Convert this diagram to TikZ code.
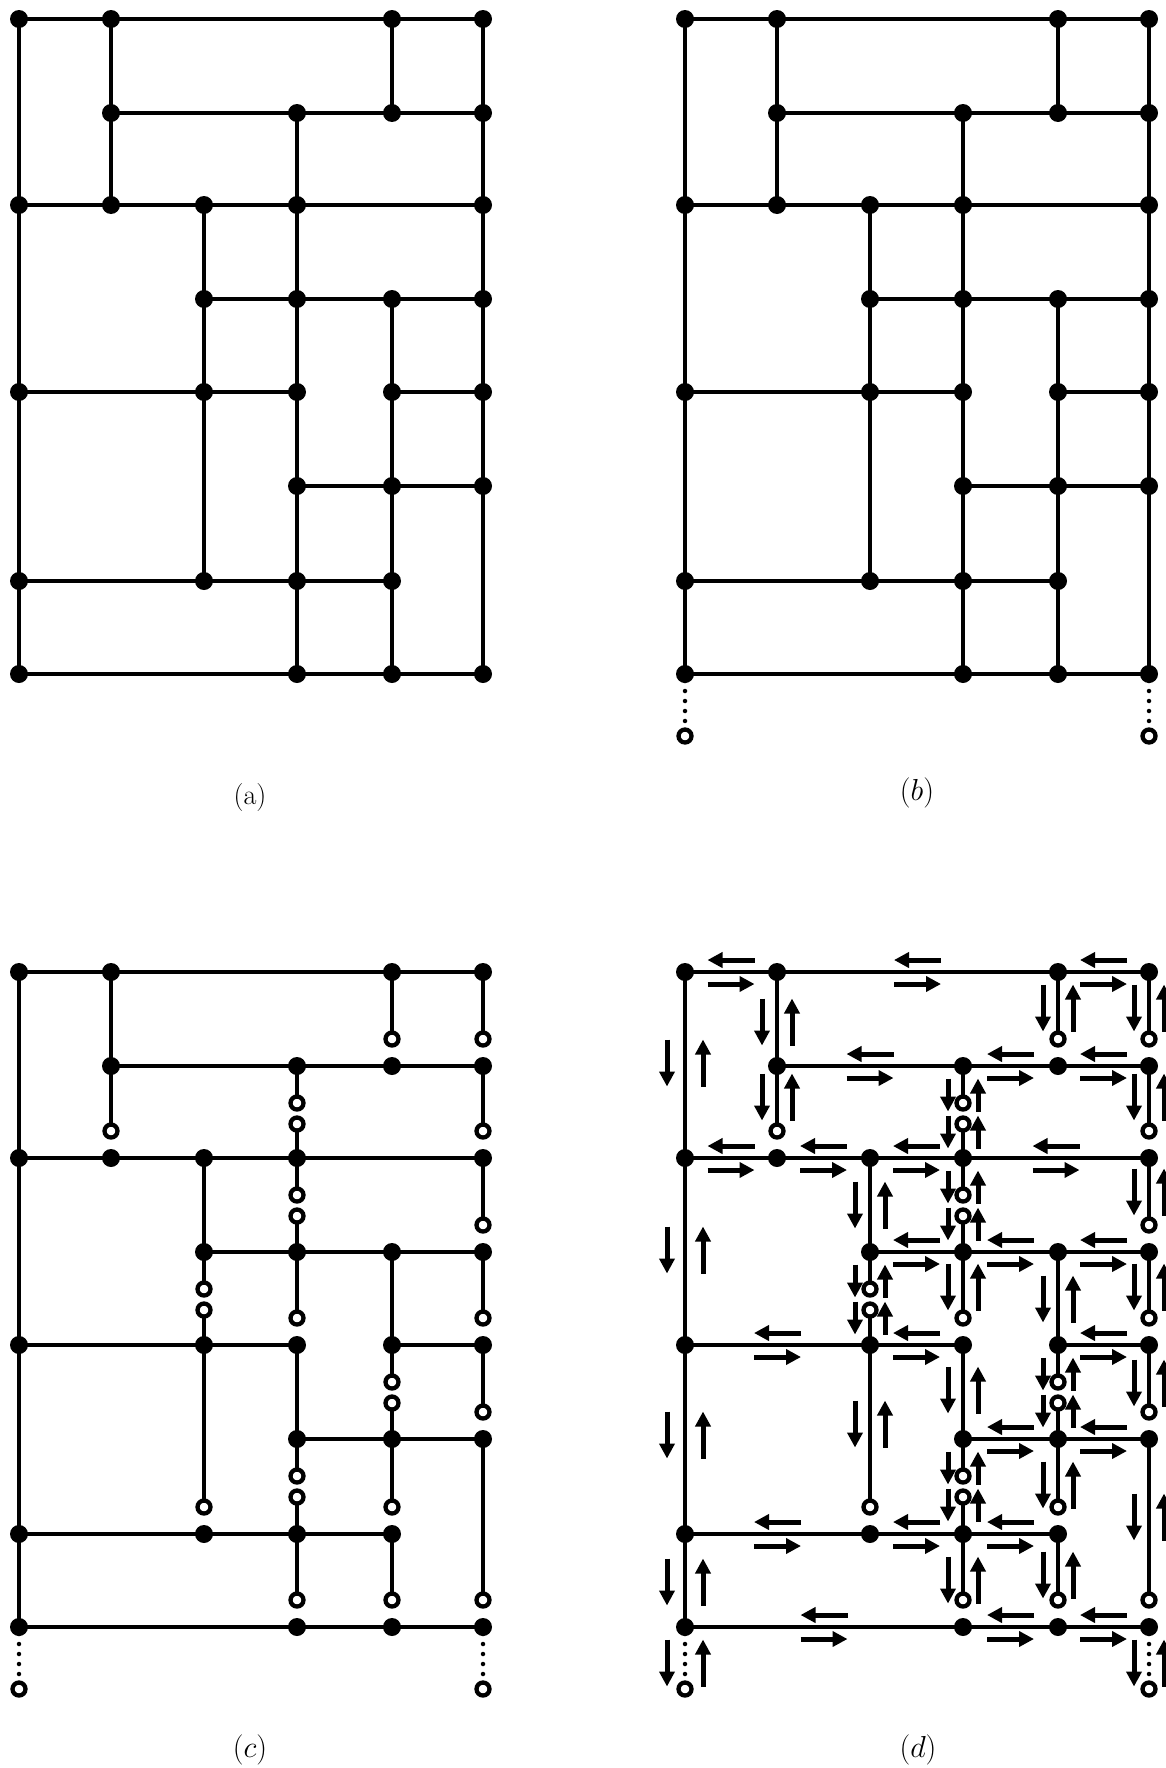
\documentclass[tikz,border=0pt]{standalone}
\usepackage{tikz}
\usetikzlibrary{arrows.meta,calc}
\tikzset{
  wire/.style={
    line width=0.09cm,
    line cap=round
  },
  vertex/.style={
    circle,
    fill=black,
    inner sep=0pt,
    minimum size=0.36cm
  },
  cutend/.style={
    circle,
    draw=black,
    fill=white,
    line width=0.086cm,
    inner sep=0pt,
    minimum size=0.26cm
  },
  stub/.style={
    line width=0.09cm,
    line cap=round,
    dash pattern=on 0pt off 0.2cm,
    dash phase=0.06cm
  },
  flow/.style={
    -{Triangle[length=0.3cm,width=0.3cm]},
    line width=0.1cm
  },
  tag/.style={
    font=\fontsize{16}{19}\selectfont
  }
}

\begin{document}
\begin{tikzpicture}[x=0.02cm, y=-0.02cm]
    \useasboundingbox (0,0) rectangle (1166,1768);
    % grid points of the four panels
    \foreach \p/\dx/\dy in {a/0/0, b/666/0, c/0/953, d/666/953}
      \foreach \x [count=\i from 0] in {19,111,204,297,392,483}
        \foreach \y [count=\j from 0] in {19,113,205,299,392,486,581,674}
          \coordinate (\p\i-\j) at (\x+\dx,\y+\dy);
    \foreach \p in {b,c,d} {
      \coordinate (\p0-8) at ($(\p0-7)+(0,62)$);
      \coordinate (\p5-8) at ($(\p5-7)+(0,62)$);
    }
    % horizontal wires
    \foreach \p in {a,b,c,d}
      \foreach \r/\s/\t in {0/0/5, 1/1/5, 2/0/5, 3/2/5, 4/0/3, 4/4/5, 5/3/5, 6/0/4, 7/0/5}
        \draw[wire] (\p\s-\r) -- (\p\t-\r);
    % vertical wires, whole
    \foreach \p in {a,b}
      \foreach \c/\s/\t in {0/0/7, 1/0/2, 2/2/6, 3/1/7, 4/0/1, 4/3/7, 5/0/7}
        \draw[wire] (\p\c-\s) -- (\p\c-\t);
    % vertical wires, cut
    \foreach \p in {c,d} {
      \foreach \c/\s/\t in {0/0/7, 1/0/1, 2/2/3, 3/4/5, 4/3/4}
        \draw[wire] (\p\c-\s) -- (\p\c-\t);
      \foreach \c/\s/\t in {1/1/2, 2/4/6, 3/3/4, 3/6/7, 4/0/1, 4/5/6, 4/6/7, 5/0/1, 5/1/2, 5/2/3, 5/3/4, 5/4/5, 5/5/7} {
        \coordinate (\p\c-\s-o) at ($(\p\c-\t)+(0,-27)$);
        \draw[wire] (\p\c-\s) -- (\p\c-\s-o);
      }
      \foreach \c/\s/\t in {2/3/4, 3/1/2, 3/2/3, 3/5/6, 4/4/5} {
        \coordinate (\p\c-\s-u) at ($(\p\c-\s)+(0,37)$);
        \coordinate (\p\c-\s-l) at ($(\p\c-\s)+(0,58)$);
        \draw[wire] (\p\c-\s) -- (\p\c-\s-u) (\p\c-\s-l) -- (\p\c-\t);
      }
    }
    \foreach \p in {b,c,d} {
      \draw[stub] (\p0-7) -- (\p0-8);
      \draw[stub] (\p5-7) -- (\p5-8);
    }
    % vertices
    \foreach \p in {a,b,c,d}
      \foreach \r/\cols in {0/{0,1,4,5}, 1/{1,3,4,5}, 2/{0,1,2,3,5}, 3/{2,3,4,5}, 4/{0,2,3,4,5}, 5/{3,4,5}, 6/{0,2,3,4}, 7/{0,3,4,5}}
        \foreach \c in \cols
          \node[vertex] (\p v\c\r) at (\p\c-\r) {};
    % open ends
    \foreach \p in {b,c,d} {
      \node[cutend] (\p e0) at (\p0-8) {};
      \node[cutend] (\p e5) at (\p5-8) {};
    }
    \foreach \p in {c,d} {
      \foreach \c/\s in {1/1, 2/4, 3/3, 3/6, 4/0, 4/5, 4/6, 5/0, 5/1, 5/2, 5/3, 5/4, 5/5}
        \node[cutend] (\p o\c\s) at (\p\c-\s-o) {};
      \foreach \c/\s in {2/3, 3/1, 3/2, 3/5, 4/4} {
        \node[cutend] (\p u\c\s) at (\p\c-\s-u) {};
        \node[cutend] (\p l\c\s) at (\p\c-\s-l) {};
      }
    }
    % walk round the tree in (d)
    \foreach \r/\s/\t in {0/0/1, 0/1/4, 0/4/5, 1/1/3, 1/3/4, 1/4/5, 2/0/1, 2/1/2, 2/2/3, 2/3/5, 3/2/3, 3/3/4, 3/4/5, 4/0/2, 4/2/3, 4/4/5, 5/3/4, 5/4/5, 6/0/2, 6/2/3, 6/3/4, 7/0/3, 7/3/4, 7/4/5} {
      \draw[flow] ($(d\s-\r)!0.5!(d\t-\r)+(23.5,-12)$) -- ++(-47,0);
      \draw[flow] ($(d\s-\r)!0.5!(d\t-\r)+(-23.5,12)$) -- ++(47,0);
    }
    \foreach \c/\cy/\len/\off in {0/1063/47/18, 0/1250/47/18, 0/1435/47/18, 0/1582/47/18, 0/1663/47/18,
        1/1022/47/15, 1/1097/47/15,
        2/1205/47/15, 2/1281/33/15, 2/1318/33/15, 2/1424/47/15,
        3/1095/33/15, 3/1132/33/15, 3/1187/33/15, 3/1224/33/15, 3/1287/47/15, 3/1390/47/15, 3/1468/33/15, 3/1505/33/15, 3/1580/47/15,
        4/1008/47/15, 4/1299/47/15, 4/1374/33/15, 4/1411/33/15, 4/1485/47/15, 4/1575/47/15,
        5/1008/47/15, 5/1097/47/15, 5/1192/47/15, 5/1287/47/15, 5/1383/47/15, 5/1517/47/15, 5/1663/47/15} {
      \draw[flow] ($(d\c-0)+(-\off,\cy-\len/2-972)$) -- ++(0,\len);
      \draw[flow] ($(d\c-0)+(\off,\cy+\len/2-972)$) -- ++(0,-\len);
    }
    \node[tag] (capa) at (250,797) {(a)};
    \node[tag] (capb) at (917,793) {$(b)$};
    \node[tag] (capc) at (250,1750) {$(c)$};
    \node[tag] (capd) at (918,1750) {$(d)$};
\end{tikzpicture}
\end{document}
